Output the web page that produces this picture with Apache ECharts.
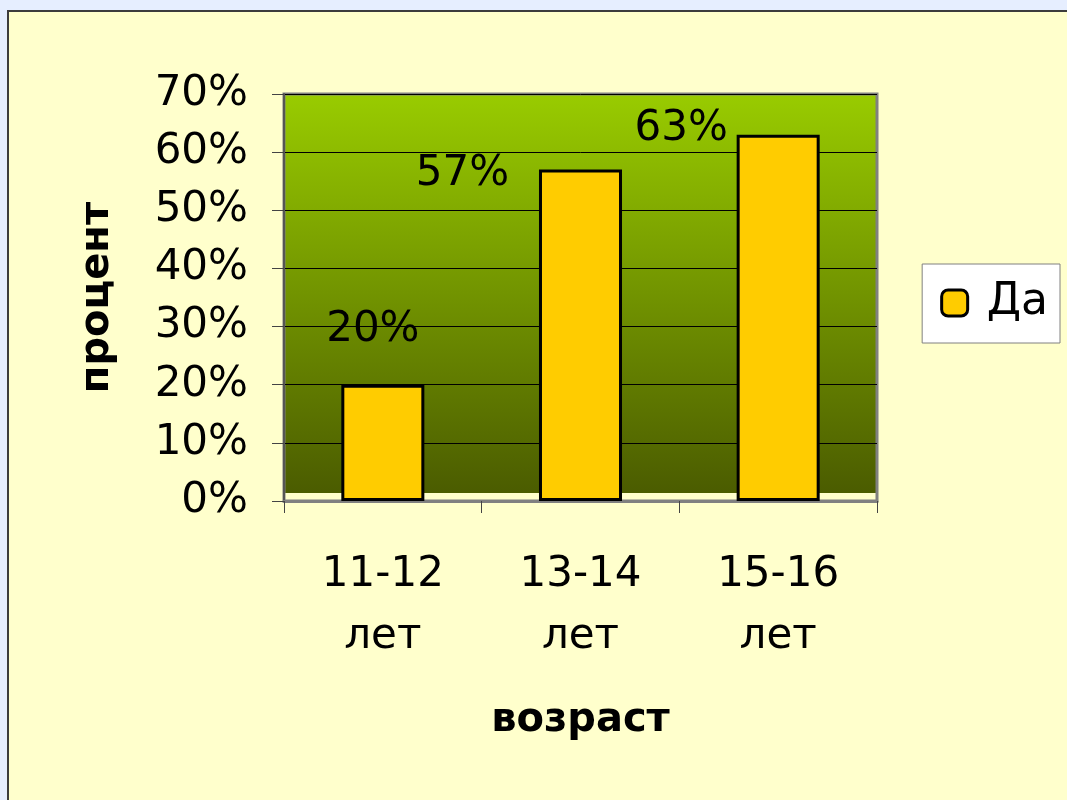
<!DOCTYPE html>
<html>
<head>
<meta charset="utf-8">
<script src="https://cdn.jsdelivr.net/npm/echarts@6/dist/echarts.min.js"></script>
<style>
  html, body { margin: 0; padding: 0; background: #e6eeff; }
  #frame { position: absolute; left: 7px; top: 10px; width: 1060px; height: 790px;
           background: #ffffcc; border-left: 2px solid #3c3c3c; border-top: 2px solid #3c3c3c; }
  #main { position: absolute; left: 0; top: 0; width: 1067px; height: 800px; }
</style>
</head>
<body>
<div id="frame"></div>
<div id="main"></div>
<script>
// data
var categories = ['11-12\nлет', '13-14\nлет', '15-16\nлет']
var yesValues = [20, 57, 63]
// label shifts like in the original (excel put them off to the left)
var labelShift = [[-10, -29], [-118, 31], [-97, 20]]

var font = 'DejaVu Sans'

var chart = echarts.init(document.getElementById('main'), null, { renderer: 'canvas' })

var option = {
  backgroundColor: 'transparent',
  textStyle: { fontFamily: font },
  grid: {
    left: 284,
    top: 94,
    right: 190,
    bottom: 299,
    show: true,
    borderColor: '#808080',
    borderWidth: 3,
    backgroundColor: new echarts.graphic.LinearGradient(0, 0, 0, 1, [
      { offset: 0, color: '#99cc00' },
      { offset: 0.977, color: '#4b5c00' },
      { offset: 0.978, color: '#ffffcc' },
      { offset: 1, color: '#ffffcc' }
    ])
  },
  legend: {
    show: true,
    right: 7,
    top: 264,
    orient: 'vertical',
    backgroundColor: '#ffffff',
    borderColor: '#808080',
    borderWidth: 1,
    borderRadius: 0,
    padding: [17, 12, 18, 18],
    itemWidth: 26,
    itemHeight: 26,
    itemGap: 10,
    icon: 'roundRect',
    itemStyle: { borderColor: '#000', borderWidth: 3 },
    textStyle: { fontSize: 44, color: '#000', fontFamily: font, padding: [0, 0, 0, 14] },
    data: ['Да']
  },
  xAxis: {
    type: 'category',
    data: categories,
    name: 'возраст',
    nameLocation: 'middle',
    nameGap: 200,
    nameTextStyle: { fontSize: 40, fontWeight: 'bold', color: '#000', fontFamily: font },
    axisLine: { lineStyle: { color: '#808080', width: 3 } },
    axisTick: { show: true, length: 12, lineStyle: { color: '#444', width: 1 } },
    axisLabel: { fontSize: 42, color: '#000', lineHeight: 62, margin: 43, fontFamily: font }
  },
  yAxis: {
    type: 'value',
    min: 0,
    max: 70,
    interval: 10,
    name: 'процент',
    nameLocation: 'middle',
    nameGap: 166,
    nameRotate: 90,
    nameTextStyle: { fontSize: 40, fontWeight: 'bold', color: '#000', fontFamily: font },
    axisLine: { show: true, lineStyle: { color: '#555', width: 2 } },
    axisTick: { show: true, length: 12, lineStyle: { color: '#444', width: 1 } },
    axisLabel: {
      fontSize: 42, color: '#000', margin: 36, fontFamily: font,
      formatter: function (v) { return v + '%' }
    },
    splitLine: { lineStyle: { color: '#000', width: 1 } }
  },
  series: [
    {
      name: 'Да',
      type: 'bar',
      barWidth: '42%',
      itemStyle: { color: '#ffcc00', borderColor: '#000', borderWidth: 3 },
      data: yesValues.map(function (v, i) {
        return {
          value: v,
          label: {
            show: true,
            position: 'top',
            offset: labelShift[i],
            fontSize: 42,
            color: '#000',
            fontFamily: font,
            formatter: '{c}%'
          }
        }
      })
    }
  ]
}

chart.setOption(option)
</script>
</body>
</html>
